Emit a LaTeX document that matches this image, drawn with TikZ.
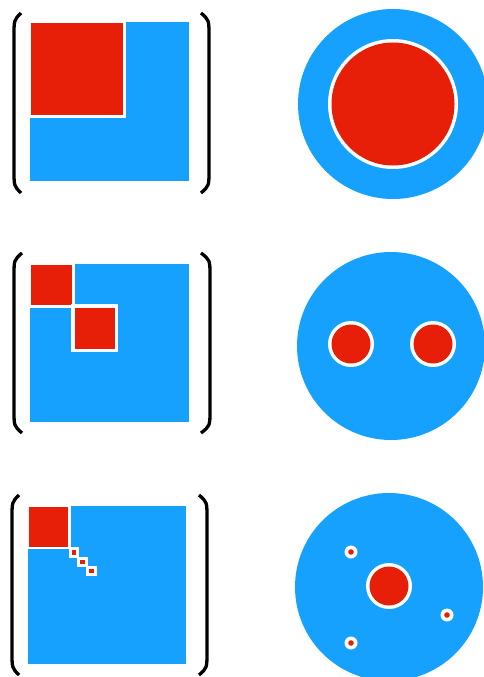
\documentclass[tikz,border=0pt]{standalone}
\definecolor{myblue}{RGB}{22,161,255}
\definecolor{myred}{RGB}{232,31,8}
\tikzset{
  bl/.style={fill=myblue},
  wh/.style={fill=white},
  rd/.style={fill=myred},
  brk/.style={line width=3.3pt, black, line cap=butt}
}
\begin{document}
\begin{tikzpicture}[x=1pt,y=-1pt]
\useasboundingbox (0,0) rectangle (483,677);
% ---------- Row 1 ----------
\fill[bl] (30,22) rectangle (189,181);
\fill[wh] (30,22) rectangle (126,118);
\fill[rd] (31,23) rectangle (122.5,114.5);
\draw[brk] (21,13) .. controls (14,20) .. (14,36) -- (14,170) .. controls (14,186) .. (21,193);
\draw[brk] (201,13) .. controls (209,20) .. (209,36) -- (209,170) .. controls (209,186) .. (201,193);
\fill[bl] (393,104) circle (95);
\fill[wh] (393,104) circle (65);
\fill[rd] (393,104) circle (61.5);
% ---------- Row 2 ----------
\fill[bl] (30,264) rectangle (189,422);
\fill[wh] (30,264) rectangle (75,308);
\fill[rd] (31,265) rectangle (71.5,304.5);
\fill[wh] (71,304) rectangle (118,352);
\fill[rd] (74.5,307.5) rectangle (114.5,348.5);
\draw[brk] (22,253) .. controls (14,260) .. (14,276) -- (14,410) .. controls (14,426) .. (22,433);
\draw[brk] (201,253) .. controls (210,260) .. (210,276) -- (210,410) .. controls (210,426) .. (201,433);
\fill[bl] (391,346) circle (94);
\fill[wh] (351,344) circle (23);
\fill[rd] (351,344) circle (19.5);
\fill[wh] (433,344) circle (23);
\fill[rd] (433,344) circle (19.5);
% ---------- Row 3 ----------
\fill[bl] (28,506) rectangle (186,664);
\fill[wh] (28,506) rectangle (70.5,549);
\fill[rd] (29,507) rectangle (68,546.5);
\foreach \cx/\cy in {74/552.5, 82.5/562, 91.5/571}{
  \fill[wh] (\cx-5.2,\cy-5.2) rectangle (\cx+5.2,\cy+5.2);
  \fill[rd] (\cx-2.2,\cy-2.2) rectangle (\cx+2.2,\cy+2.2);
}
\draw[brk] (19,495) .. controls (12,502) .. (12,518) -- (12,652) .. controls (12,668) .. (19,675);
\draw[brk] (199,495) .. controls (207,502) .. (207,518) -- (207,652) .. controls (207,668) .. (199,675);
\fill[bl] (389,587) circle (94);
\fill[wh] (389,586) circle (23);
\fill[rd] (389,586) circle (19.5);
\foreach \cx/\cy in {351/552, 447/615, 351/643}{
  \fill[wh] (\cx,\cy) circle (6.5);
  \fill[rd] (\cx,\cy) circle (2.8);
}
\end{tikzpicture}
\end{document}
